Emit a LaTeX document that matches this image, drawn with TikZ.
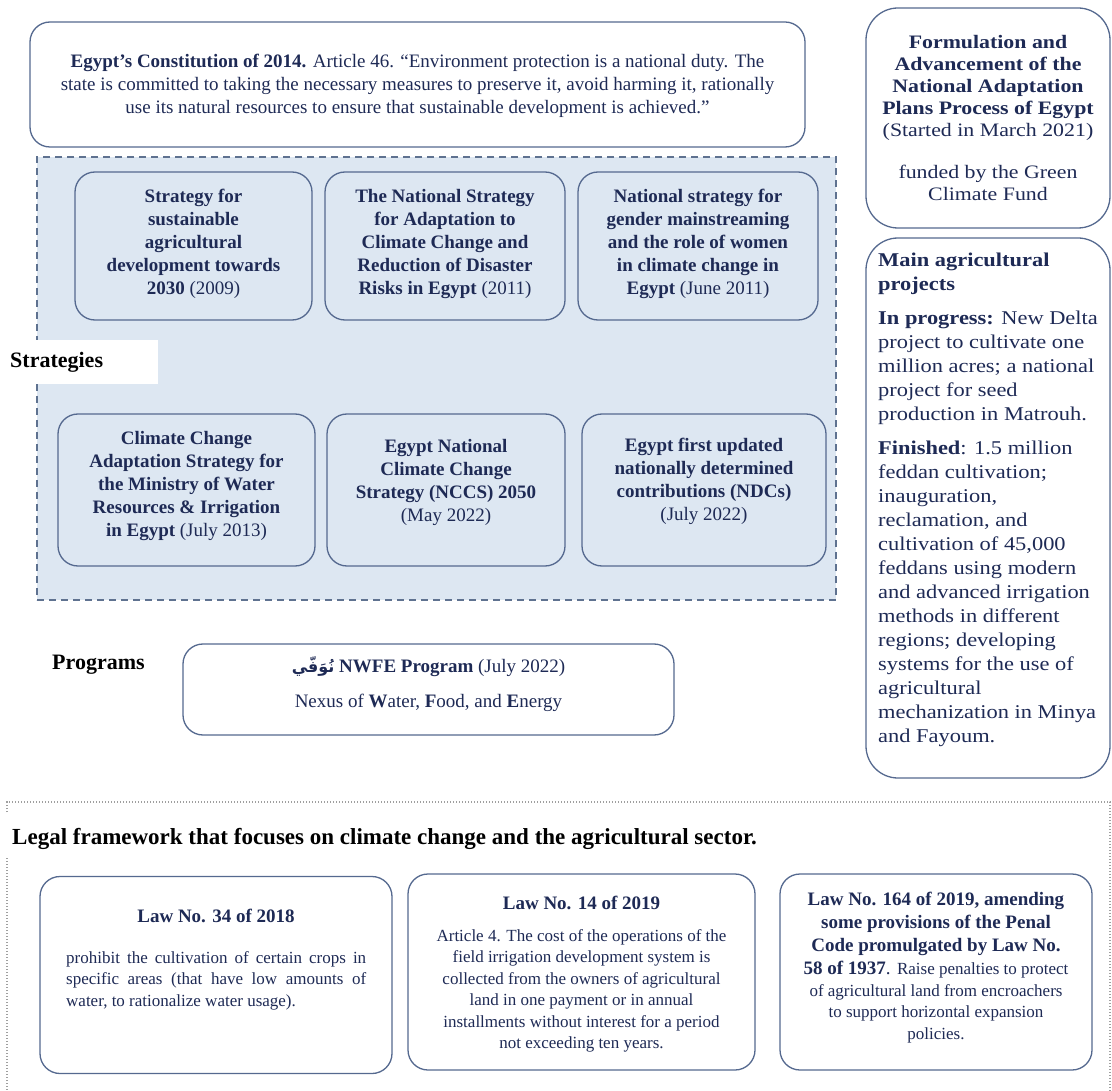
\documentclass[tikz,border=0pt]{standalone}
\usepackage{fontspec}
\setmainfont{Liberation Serif}
\newfontfamily\widefont[FakeStretch=1.15]{Liberation Serif}
\newfontfamily\arabicfont[Script=Arabic]{DejaVu Sans}
\TeXXeTstate=1
\definecolor{boxline}{HTML}{55698F}
\definecolor{navy}{HTML}{1E2A55}
\definecolor{stratfill}{HTML}{DDE7F2}
\definecolor{regline}{HTML}{5F7290}
\newcommand\fA{\fontsize{19}{23}\selectfont}
\newcommand\fL{\fontsize{17}{21.5}\selectfont}
\newcommand\B[1]{\textbf{#1}}
\begin{document}
\begin{tikzpicture}[x=1pt,y=-1pt,
  box/.style={draw=boxline, line width=1.3pt, rounded corners=20pt, fill=white, inner sep=0pt},
  sbox/.style={box, fill=stratfill},
  rbox/.style={box, rounded corners=32pt},
  tx/.style={inner sep=0pt, text=navy, align=center},
  lbl/.style={inner sep=0pt, font=\fontsize{22}{26}\selectfont\bfseries, text=black},
  region/.style={draw=regline, line width=1.3pt, dash pattern=on 7pt off 5pt, fill=stratfill, inner sep=0pt},
  frame/.style={draw=gray!75, line width=1.1pt, dash pattern=on 1.2pt off 1.8pt}]
\useasboundingbox (0,0) rectangle (1112,1091);

% top constitution box
\node[box, minimum width=775pt, minimum height=125pt] (const) at (417.5,84.5) {};
\node[tx, font=\fA] (constt) at (417.5,86) {\B{Egypt's Constitution of 2014.} Article 46. “Environment protection is a national duty. The\\
state is committed to taking the necessary measures to preserve it, avoid harming it, rationally\\
use its natural resources to ensure that sustainable development is achieved.”};

% strategies region
\node[region, minimum width=799pt, minimum height=443pt] (strat) at (436.5,378.5) {};
\node[fill=white, inner sep=0pt, minimum width=158pt, minimum height=44pt] (stratbg) at (79,362) {};
\node[lbl, anchor=west] (stratl) at (10,362) {Strategies};

\node[sbox, minimum width=237pt, minimum height=148pt] (s1) at (193.5,246) {};
\node[tx, font=\fA] (s1t) at (193.5,244) {\B{Strategy for}\\ \B{sustainable}\\ \B{agricultural}\\ \B{development towards}\\ \B{2030} (2009)};
\node[sbox, minimum width=240pt, minimum height=148pt] (s2) at (445,246) {};
\node[tx, font=\fA] (s2t) at (445,244) {\B{The National Strategy}\\ \B{for Adaptation to}\\ \B{Climate Change and}\\ \B{Reduction of Disaster}\\ \B{Risks in Egypt} (2011)};
\node[sbox, minimum width=240pt, minimum height=148pt] (s3) at (698,246) {};
\node[tx, font=\fA] (s3t) at (698,244) {\B{National strategy for}\\ \B{gender mainstreaming}\\ \B{and the role of women}\\ \B{in climate change in}\\ \B{Egypt} (June 2011)};

\node[sbox, minimum width=257pt, minimum height=152pt] (s4) at (186.5,490) {};
\node[tx, font=\fA] (s4t) at (186.5,486) {\B{Climate Change}\\ \B{Adaptation Strategy for}\\ \B{the Ministry of Water}\\ \B{Resources \& Irrigation}\\ \B{in Egypt} (July 2013)};
\node[sbox, minimum width=238pt, minimum height=152pt] (s5) at (446,490) {};
\node[tx, font=\fA] (s5t) at (446,482) {\B{Egypt National}\\ \B{Climate Change}\\ \B{Strategy (NCCS) 2050}\\ (May 2022)};
\node[sbox, minimum width=244pt, minimum height=152pt] (s6) at (704,490) {};
\node[tx, font=\fA] (s6t) at (704,481) {\B{Egypt first updated}\\ \B{nationally determined}\\ \B{contributions (NDCs)}\\ (July 2022)};

% programs
\node[lbl, anchor=west] (progl) at (52,665) {Programs};
\node[box, minimum width=491pt, minimum height=91pt] (nwfe) at (428.5,689.5) {};
\node[tx, font=\fA] (nwfet) at (428.5,684) {\B{{\arabicfont\fontsize{16}{23}\selectfont\beginR نُوَفّي\endR} NWFE Program} (July 2022)\\[12pt]
Nexus of \B{W}ater, \B{F}ood, and \B{E}nergy};

% right column
\node[rbox, minimum width=244pt, minimum height=220pt] (nap) at (988,118) {};
\node[tx, font=\widefont\fontsize{19}{22}\selectfont] (napt) at (988,118) {\B{Formulation and}\\ \B{Advancement of the}\\ \B{National Adaptation}\\ \B{Plans Process of Egypt}\\ (Started in March 2021)\\[20pt]
funded by the Green\\ Climate Fund};

\node[rbox, minimum width=244pt, minimum height=540pt] (proj) at (988,508) {};
\node[tx, align=left, anchor=north west, font=\widefont\fontsize{19.5}{24}\selectfont] (projt) at (878,253) {\B{Main agricultural}\\ \B{projects}\\[10pt]
\B{In progress:} New Delta\\ project to cultivate one\\ million acres; a national\\ project for seed\\ production in Matrouh.\\[10pt]
\B{Finished}: 1.5 million\\ feddan cultivation;\\ inauguration,\\ reclamation, and\\ cultivation of 45,000\\ feddans using modern\\ and advanced irrigation\\ methods in different\\ regions; developing\\ systems for the use of\\ agricultural\\ mechanization in Minya\\ and Fayoum.};

% legal framework
\draw[frame] (7,812) -- (7,802) -- (1110,802) -- (1110,1091);
\draw[frame] (7,858) -- (7,1091);
\node[lbl, anchor=west, font=\fontsize{23}{27}\selectfont\bfseries] (legal) at (12,839) {Legal framework that focuses on climate change and the agricultural sector.};

\node[box, minimum width=352pt, minimum height=197pt] (law1) at (216,975) {};
\node[tx, font=\fA\bfseries] (law1h) at (216,916) {Law No. 34 of 2018};
\node[tx, align=left, anchor=north west, font=\fL] (law1t) at (66,951) {\makebox[300pt][s]{prohibit the cultivation of certain crops in}\\
\makebox[300pt][s]{specific areas (that have low amounts of}\\
water, to rationalize water usage).};

\node[box, minimum width=347pt, minimum height=196pt] (law2) at (581.5,972) {};
\node[tx, font=\fA\bfseries] (law2h) at (581.5,903) {Law No. 14 of 2019};
\node[tx, anchor=north, font=\fL] (law2t) at (581.5,929) {Article 4. The cost of the operations of the\\
field irrigation development system is\\ collected from the owners of agricultural\\ land in one payment or in annual\\ installments without interest for a period\\ not exceeding ten years.};

\node[box, minimum width=312pt, minimum height=196pt] (law3) at (936,972) {};
\node[tx, anchor=north, font=\fA] (law3t) at (936,892) {\B{Law No. 164 of 2019, amending}\\ \B{some provisions of the Penal}\\ \B{Code promulgated by Law No.}\\ \B{58 of 1937}. \fL Raise penalties to protect\\[-1.5pt]
\fL of agricultural land from encroachers\\[-1.5pt] \fL to support horizontal expansion\\[-1.5pt] \fL policies.};
\end{tikzpicture}
\end{document}
